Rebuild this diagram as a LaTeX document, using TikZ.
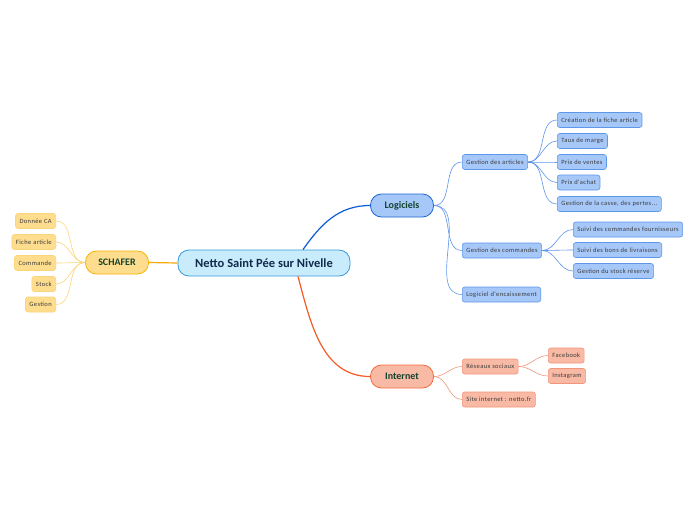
\documentclass[tikz,border=0pt]{standalone}
\usepackage{fontspec}
\setmainfont{Carlito}
\newfontfamily\leaffont[LetterSpace=6]{Carlito}
\usepackage{tikz}
\usetikzlibrary{positioning}

\definecolor{rootfill}{HTML}{C8ECFC}
\definecolor{rootline}{HTML}{3A9AD9}
\definecolor{roottext}{HTML}{122A4C}
\definecolor{topictext}{HTML}{14432F}
\definecolor{leaftext}{HTML}{3A3A3A}
\definecolor{bluefill}{HTML}{A6C8F9}
\definecolor{blueline}{HTML}{1E66D6}
\definecolor{bluelink}{HTML}{0B5ED7}
\definecolor{blueleaf}{HTML}{5E96EA}
\definecolor{redfill}{HTML}{F9BAA5}
\definecolor{redline}{HTML}{F26B3C}
\definecolor{redlink}{HTML}{F35A24}
\definecolor{redleaf}{HTML}{F2957A}
\definecolor{yelfill}{HTML}{FEDD8E}
\definecolor{yelline}{HTML}{F6B500}
\definecolor{yellink}{HTML}{F6AA00}
\definecolor{yelleaf}{HTML}{FBD57A}

\tikzset{
  root/.style={draw=rootline,fill=rootfill,rounded corners=11pt,line width=0.8pt,
    minimum width=172pt,minimum height=26pt,text=roottext,
    font=\fontsize{12.5}{14}\selectfont\bfseries},
  topic/.style={rounded corners=11pt,line width=0.8pt,minimum width=63pt,
    minimum height=23pt,text=topictext,font=\fontsize{10}{12}\selectfont\bfseries},
  leaf/.style={rounded corners=2.5pt,line width=0.6pt,minimum height=15pt,
    inner xsep=4pt,inner ysep=0pt,text=leaftext,font=\leaffont\fontsize{6.5}{7}\selectfont},
  bleaf/.style={leaf,draw=blueleaf,fill=bluefill,anchor=west},
  rleaf/.style={leaf,draw=redleaf,fill=redfill,anchor=west},
  yleaf/.style={leaf,draw=yelleaf,fill=yelfill,anchor=east},
}

\begin{document}
\begin{tikzpicture}[x=1pt,y=-1pt,line width=0.6pt]

  \fill[white] (0,0) rectangle (696,520);
  \useasboundingbox (0,0) rectangle (696,520);

  \node[root] at (264,263) (netto) {Netto Saint Pée sur Nivelle};

  % SCHAFER
  \node[topic,draw=yelline,fill=yelfill] at (117,262.5) (schafer) {SCHAFER};
  \node[yleaf] at (56,221) (ca) {Donnée CA};
  \node[yleaf] at (56,242) (fiche) {Fiche article};
  \node[yleaf] at (56,263) (cde) {Commande};
  \node[yleaf] at (56,284) (stock) {Stock};
  \node[yleaf] at (56,304.5) (gest) {Gestion};
  \draw [yellink,line width=1.2pt] (netto.west) -- (schafer.east);
  \foreach \n in {ca,fiche,cde,stock,gest}
    \draw [yelleaf] (schafer.west) to[out=180,in=0] (\n.east);

  % Logiciels
  \node[topic,draw=blueline,fill=bluefill] at (402,205.5) (logi) {Logiciels};
  \node[bleaf] at (462,162) (art) {Gestion des articles};
  \node[bleaf] at (462,250.5) (cmd) {Gestion des commandes};
  \node[bleaf] at (462,294.5) (enc) {Logiciel d'encaissement};
  \node[bleaf] at (557,120) (crea) {Création de la fiche article};
  \node[bleaf] at (557,141) (taux) {Taux de marge};
  \node[bleaf] at (557,162) (prixv) {Prix de ventes};
  \node[bleaf] at (557,182.5) (prixa) {Prix d'achat};
  \node[bleaf] at (557,204) (casse) {Gestion de la casse, des pertes...};
  \node[bleaf] at (573,229.5) (four) {Suivi des commandes fournisseurs};
  \node[bleaf] at (573,250) (bons) {Suivi des bons de livraisons};
  \node[bleaf] at (573,271) (res) {Gestion du stock réserve};
  \draw [bluelink,line width=1.2pt] ([xshift=39pt]netto.north) to[out=55,in=180] (logi.west);
  \foreach \n in {art,cmd,enc}
    \draw [blueleaf] (logi.east) to[out=0,in=180] (\n.west);
  \foreach \n in {crea,taux,prixv,prixa,casse}
    \draw [blueleaf] (art.east) to[out=0,in=180] (\n.west);
  \foreach \n in {four,bons,res}
    \draw [blueleaf] (cmd.east) to[out=0,in=180] (\n.west);

  % Internet
  \node[topic,draw=redline,fill=redfill] at (402,376.5) (web) {Internet};
  \node[rleaf] at (462,366.5) (reseaux) {Réseaux sociaux};
  \node[rleaf] at (462,399.5) (site) {Site internet : netto.fr};
  \node[rleaf] at (548,355.5) (fb) {Facebook};
  \node[rleaf] at (548,376) (insta) {Instagram};
  \draw [redlink,line width=1.2pt] ([xshift=34pt]netto.south) to[out=-75,in=180] (web.west);
  \foreach \n in {reseaux,site}
    \draw [redleaf] (web.east) to[out=0,in=180] (\n.west);
  \foreach \n in {fb,insta}
    \draw [redleaf] (reseaux.east) to[out=0,in=180] (\n.west);

\end{tikzpicture}
\end{document}
